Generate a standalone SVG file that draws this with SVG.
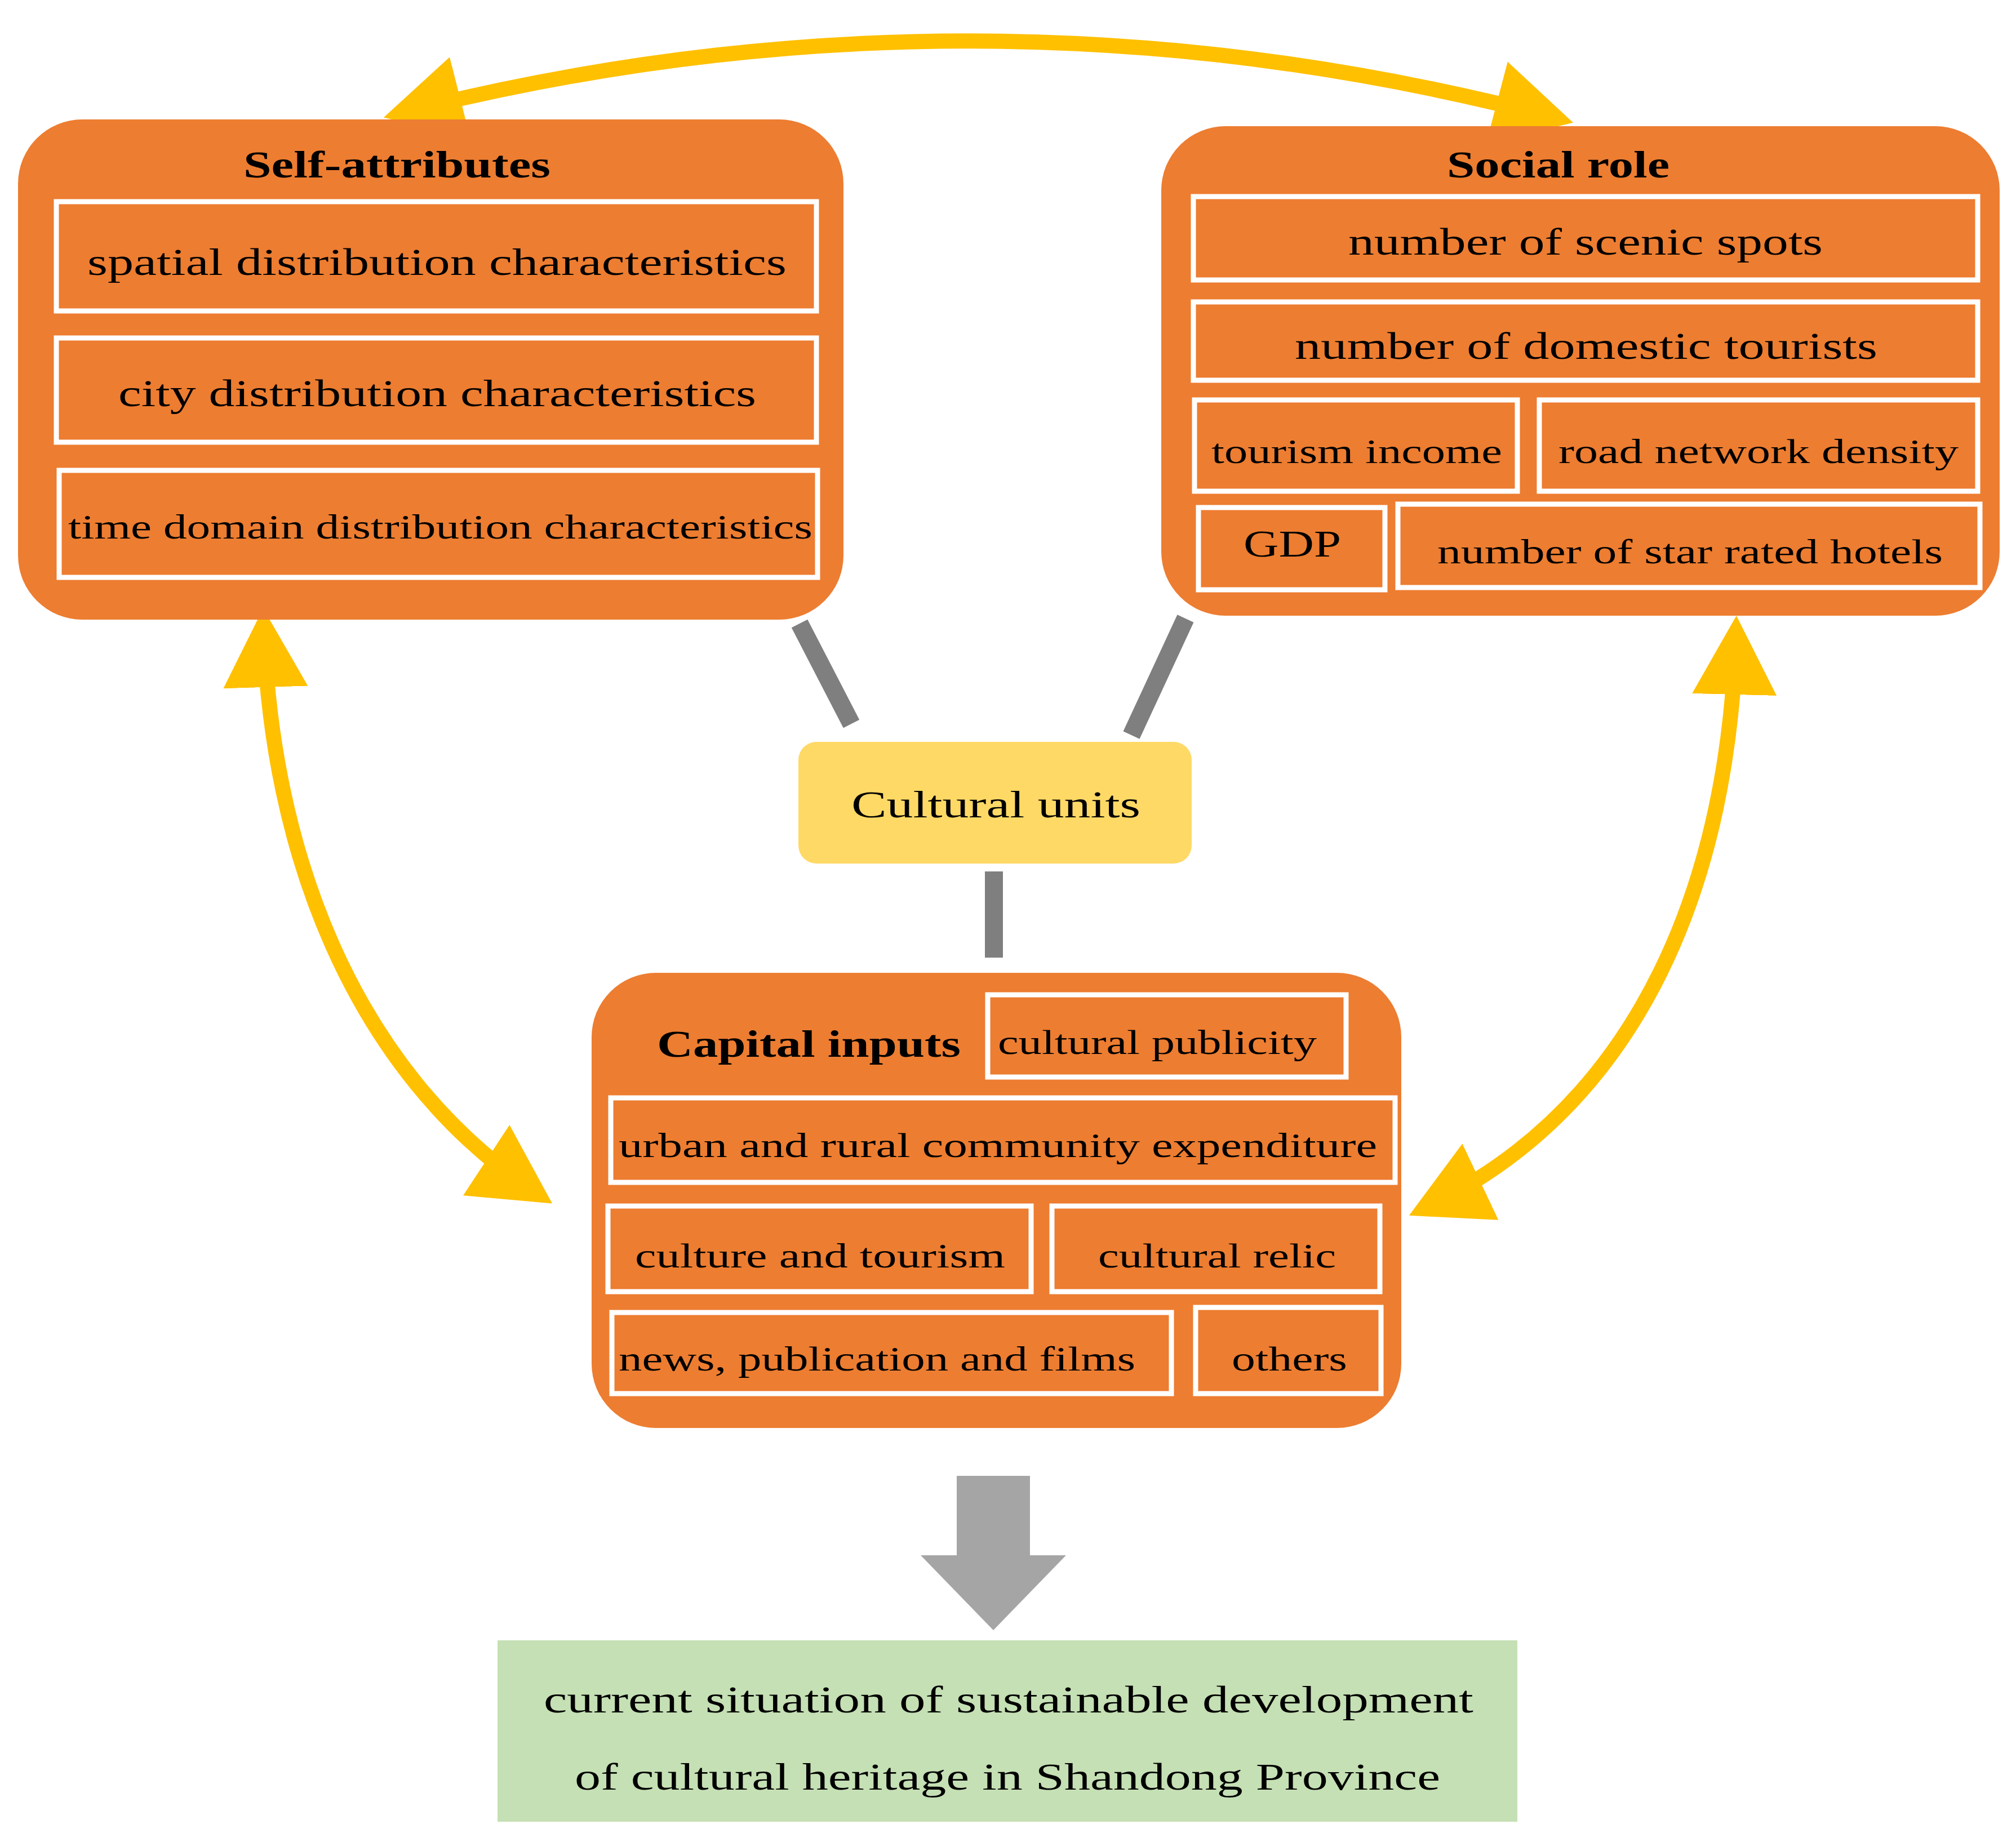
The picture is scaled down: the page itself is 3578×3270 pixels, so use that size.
<svg xmlns="http://www.w3.org/2000/svg" width="3578" height="3270" viewBox="0 0 3578 3270">
<style>
.grp{fill:#ED7D31}
.in{fill:#ED7D31;stroke:#fff;stroke-width:9}
text{font-family:"Liberation Serif","DejaVu Serif",serif;font-size:68px;fill:#000;text-anchor:start}
.t{font-weight:bold}
.s{font-size:62px}
.y{fill:none;stroke:#FFC000;stroke-width:27}
.g{stroke:#7F7F7F;stroke-width:32}
</style>
<defs>
<marker id="ah" markerUnits="userSpaceOnUse" markerWidth="140" markerHeight="150" refX="110" refY="75" orient="auto-start-reverse" viewBox="0 0 140 150">
<path d="M0,0 L140,75 L0,150 z" fill="#FFC000"/>
</marker>
</defs>
<rect width="3578" height="3270" fill="#fff"/>
<g id="connectors">
<path class="y" d="M710,201 Q1736,-60 2763,210" marker-start="url(#ah)" marker-end="url(#ah)"/>
<path class="y" d="M468,1110 C480,1500 620,1900 955,2120" marker-start="url(#ah)" marker-end="url(#ah)"/>
<path class="y" d="M3081,1123 C3070,1550 2920,1960 2528,2145" marker-start="url(#ah)" marker-end="url(#ah)"/>
<line class="g" x1="1419" y1="1107" x2="1511" y2="1285"/>
<line class="g" x1="2104" y1="1098" x2="2008" y2="1305"/>
<line class="g" x1="1764" y1="1547" x2="1764" y2="1700"/>
<path d="M1698,2620 H1828 V2761 H1892 L1763,2894 L1634,2761 H1698 Z" fill="#A5A5A5"/>
</g>
<g id="self">
<rect class="grp" x="32" y="212" width="1465" height="888" rx="114"/>
<text class="t" x="432" y="315" textLength="545" lengthAdjust="spacingAndGlyphs">Self-attributes</text>
<rect class="in" x="100" y="358" width="1349" height="194"/>
<text x="155" y="488" textLength="1241" lengthAdjust="spacingAndGlyphs">spatial distribution characteristics</text>
<rect class="in" x="100" y="600" width="1349" height="185"/>
<text x="210" y="721" textLength="1132" lengthAdjust="spacingAndGlyphs">city distribution characteristics</text>
<rect class="in" x="105" y="835" width="1346" height="190"/>
<text class="s" x="121" y="956" textLength="1321" lengthAdjust="spacingAndGlyphs">time domain distribution characteristics</text>
</g>
<g id="social">
<rect class="grp" x="2061" y="224" width="1488" height="869" rx="114"/>
<text class="t" x="2568" y="315" textLength="395" lengthAdjust="spacingAndGlyphs">Social role</text>
<rect class="in" x="2118" y="349" width="1392" height="148"/>
<text x="2393" y="452" textLength="842" lengthAdjust="spacingAndGlyphs">number of scenic spots</text>
<rect class="in" x="2118" y="536" width="1392" height="139"/>
<text x="2298" y="637" textLength="1034" lengthAdjust="spacingAndGlyphs">number of domestic tourists</text>
<rect class="in" x="2120" y="710" width="573" height="162"/>
<text class="s" x="2150" y="822" textLength="516" lengthAdjust="spacingAndGlyphs">tourism income</text>
<rect class="in" x="2732" y="710" width="778" height="162"/>
<text class="s" x="2766" y="822" textLength="710" lengthAdjust="spacingAndGlyphs">road network density</text>
<rect class="in" x="2127" y="901" width="331" height="146"/>
<text x="2207" y="988" textLength="173" lengthAdjust="spacingAndGlyphs">GDP</text>
<rect class="in" x="2481" y="895" width="1033" height="148"/>
<text class="s" x="2551" y="1000" textLength="897" lengthAdjust="spacingAndGlyphs">number of star rated hotels</text>
</g>
<g id="cultural-units">
<rect x="1417" y="1317" width="698" height="216" rx="32" fill="#FFD966"/>
<text x="1511" y="1451" textLength="513" lengthAdjust="spacingAndGlyphs">Cultural units</text>
</g>
<g id="capital">
<rect class="grp" x="1050" y="1727" width="1437" height="808" rx="114"/>
<text class="t" x="1166" y="1876" textLength="539" lengthAdjust="spacingAndGlyphs">Capital inputs</text>
<rect class="in" x="1753" y="1766" width="636" height="146"/>
<text class="s" x="1771" y="1871" textLength="566" lengthAdjust="spacingAndGlyphs">cultural publicity</text>
<rect class="in" x="1084" y="1949" width="1392" height="150"/>
<text class="s" x="1098" y="2054" textLength="1346" lengthAdjust="spacingAndGlyphs">urban and rural community expenditure</text>
<rect class="in" x="1079" y="2141" width="751" height="152"/>
<text class="s" x="1127" y="2250" textLength="657" lengthAdjust="spacingAndGlyphs">culture and tourism</text>
<rect class="in" x="1867" y="2141" width="582" height="152"/>
<text class="s" x="1949" y="2250" textLength="422" lengthAdjust="spacingAndGlyphs">cultural relic</text>
<rect class="in" x="1086" y="2330" width="993" height="144"/>
<text class="s" x="1098" y="2433" textLength="917" lengthAdjust="spacingAndGlyphs">news, publication and films</text>
<rect class="in" x="2122" y="2321" width="329" height="153"/>
<text class="s" x="2186" y="2433" textLength="205" lengthAdjust="spacingAndGlyphs">others</text>
</g>
<g id="result">
<rect x="883" y="2912" width="1810" height="322" fill="#C5E0B4"/>
<text x="965" y="3040" textLength="1650" lengthAdjust="spacingAndGlyphs">current situation of sustainable development</text>
<text x="1020" y="3177" textLength="1536" lengthAdjust="spacingAndGlyphs">of cultural heritage in Shandong Province</text>
</g>
</svg>
